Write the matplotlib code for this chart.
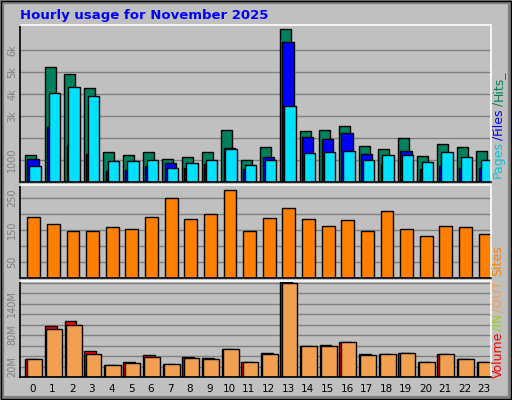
import matplotlib
matplotlib.use("Agg")
import matplotlib.pyplot as plt
from matplotlib.patches import Rectangle
import numpy as np

hours = list(range(24))
hits = [1230,5230,4900,4270,1360,1230,1360,1050,1140,1360,2360,1000,1590,6950,2320,2360,2545,1640,1500,2000,1180,1730,1590,1410]
files = [1050,2500,1640,1270,500,545,730,860,640,820,1545,590,1140,6360,2045,1950,2230,1270,820,1410,590,730,640,640]
pages = [730,4045,4320,3910,955,955,1000,640,860,1000,1500,770,1000,3450,1320,1360,1410,1000,1230,1230,910,1360,1140,1000]
sites = [189,168,146,146,158,152,189,251,183,199,273,146,186,217,183,161,180,146,208,152,130,161,158,137]
volume = [35,97,107,49,23,29,41,25,39,37,53,29,45,181,59,61,67,43,43,45,29,43,35,29]
vol_out = [35,91,99,43,23,27,39,25,37,35,53,29,43,179,59,59,67,41,43,45,29,43,35,29]
vol_in = [1,7,9,9,1,1,1,1,1,1,1,1,1,5,1,1,1,1,1,1,1,1,1,1]

W, H = 512, 400
fig = plt.figure(figsize=(W/100, H/100), dpi=100)
fig.patch.set_facecolor("#c0c0c0")
fig.patches.append(Rectangle((0, 0), 1, 1, transform=fig.transFigure, fill=False, edgecolor="#808080", lw=6))
fig.patches.append(Rectangle((1/W, 1/H), 1-2/W, 1-2/H, transform=fig.transFigure, fill=False, edgecolor="black", lw=1))

fig.text(20/W, 1-15/H, "Hourly usage for November 2025", color="#0000ff", fontsize=9.5,
         fontweight="bold", va="center", ha="left")

def ax_at(x0, y0, x1, y1):
    ax = fig.add_axes([x0/W, 1-y1/H, (x1-x0)/W, (y1-y0)/H])
    ax.set_facecolor("#c0c0c0")
    ax.set_xlim(-0.66, 23.34)
    for s in ax.spines.values():
        s.set_color("black"); s.set_linewidth(1.2)
    ax.spines["right"].set_color("white"); ax.spines["top"].set_color("white")
    ax.tick_params(axis="y", length=0, labelsize=7, labelcolor="#808080", rotation=90, pad=2)
    ax.tick_params(axis="x", length=0)
    ax.set_axisbelow(True)
    ax.yaxis.grid(True, color="#808080", lw=1)
    return ax

x = np.array(hours)
kw = dict(edgecolor="black", linewidth=1, align="edge")

ax1 = ax_at(20, 25, 491, 182)
ax1.bar(x-0.41, hits, width=0.56, color="#00805c", **kw)
ax1.bar(x-0.29, files, width=0.58, color="#0000ff", **kw)
ax1.bar(x-0.19, pages, width=0.58, color="#00e0ff", **kw)
ax1.set_ylim(0, 7150)
ax1.set_yticks([1000,2000,3000,4000,5000,6000])
ax1.set_yticklabels(["1000","","3k","4k","5k","6k"], va="center")
ax1.set_xticks([])

ax2 = ax_at(20, 185, 491, 278)
ax2.bar(x-0.29, sites, width=0.66, color="#ff8000", **kw)
ax2.set_ylim(0, 290)
ax2.set_yticks([50,100,150,200,250])
ax2.set_yticklabels(["50","","150","","250"], va="center")
ax2.set_xticks([])

ax3 = ax_at(20, 281, 491, 377)
ax3.bar(x-0.39, volume, width=0.6, color="#ff0000", **kw)
ax3.bar(x-0.37, vol_in, width=0.07, color="#80ff40", edgecolor="black", linewidth=0.5, align="edge")
ax3.bar(x-0.32, vol_out, width=0.8, color="#f0a050", **kw)
ax3.set_ylim(0, 183)
ax3.set_yticks(list(range(20, 181, 20)))
ax3.set_yticklabels(["20M","","","80M","","","140M","",""], va="center")
ax3.set_xticks(hours)
ax3.set_xticklabels([str(h) for h in hours], fontsize=7.5)
ax3.tick_params(axis="x", pad=5)

renderer = fig.canvas.get_renderer()
def vlabel(parts, xpix, ybottom):
    y = ybottom
    for txt, col in parts:
        t = fig.text(xpix/W, 1-y/H, txt, color=col, rotation=90, fontsize=9,
                     ha="center", va="bottom")
        ext = t.get_window_extent(renderer)
        y -= ext.height + 1
vlabel([("Pages", "#00c8e0"), ("/", "#0000ff"), ("Files", "#0000ff"), ("/", "#00805c"), ("Hits_", "#00805c")], 498, 178)
vlabel([("Sites", "#ff8000")], 498, 276)
vlabel([("Volume", "#ff0000"), ("/IN", "#a0d020"), ("/OUT", "#f0a050")], 498, 378)

fig.savefig("out.png", dpi=100, facecolor=fig.get_facecolor())
